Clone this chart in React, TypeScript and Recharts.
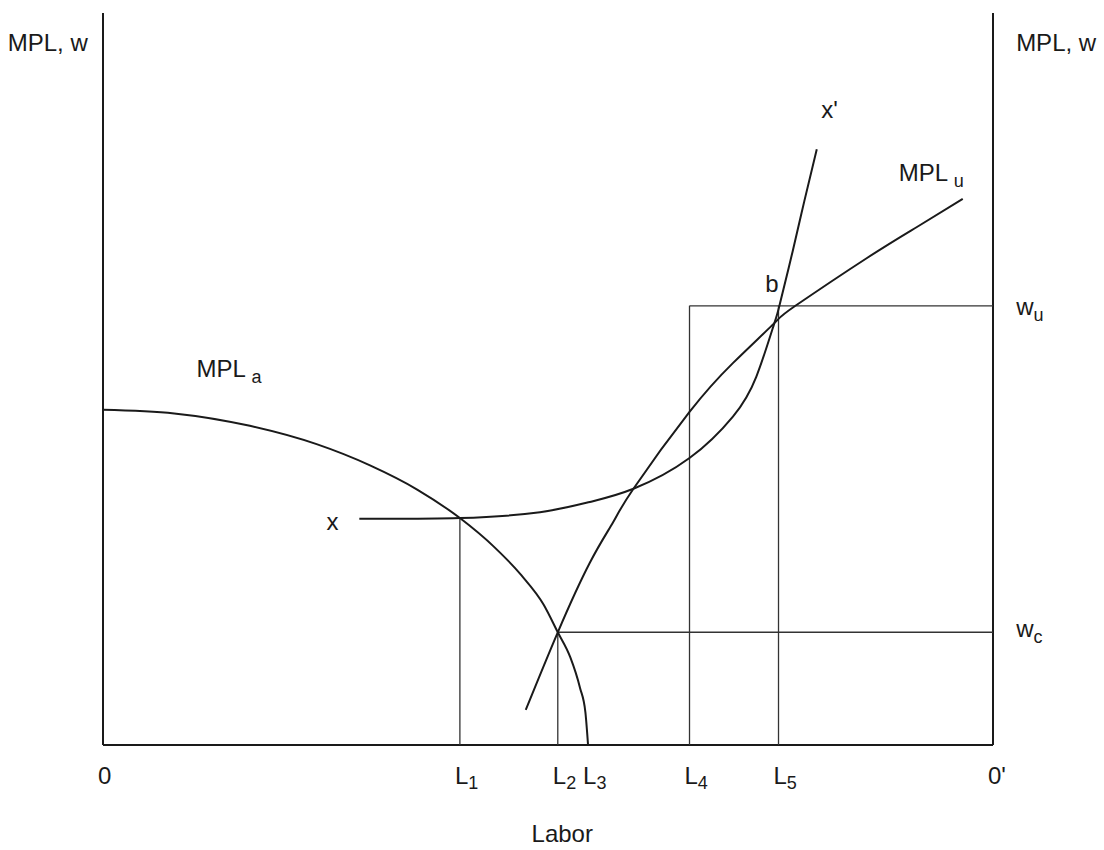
import { LineChart, Line, XAxis, YAxis, ReferenceLine, ReferenceDot } from 'recharts'

// labour runs 0..100 from 0 to 0', MPL / wage runs 0..100 up the side axes
const mplA = [
	{ x: 0, y: 45.8 }, { x: 8, y: 45.3 }, { x: 16.5, y: 43.6 }, { x: 24, y: 41.1 },
	{ x: 30, y: 38.2 }, { x: 35.3, y: 34.9 }, { x: 40.1, y: 31.0 }, { x: 44, y: 27.0 },
	{ x: 47, y: 23.2 }, { x: 49.5, y: 19.2 }, { x: 51.1, y: 15.4 }, { x: 52.5, y: 12.0 },
	{ x: 53.6, y: 7.8 }, { x: 54.2, y: 4.5 }, { x: 54.5, y: 0 },
]
const curveX = [
	{ x: 28.8, y: 30.9 }, { x: 40.1, y: 31.0 }, { x: 49.1, y: 31.8 }, { x: 54.7, y: 33.2 },
	{ x: 59.6, y: 35.0 }, { x: 65.9, y: 39.2 }, { x: 70.8, y: 44.9 }, { x: 73.4, y: 50.3 },
	{ x: 75.4, y: 57.5 }, { x: 76.0, y: 60.0 }, { x: 77.5, y: 67.5 }, { x: 78.8, y: 74.3 },
	{ x: 80.2, y: 81.4 },
]
const mplU = [
	{ x: 47.5, y: 4.8 }, { x: 51.1, y: 15.4 }, { x: 54.7, y: 24.9 }, { x: 57.3, y: 30.4 },
	{ x: 59.6, y: 35.0 }, { x: 65.9, y: 45.5 }, { x: 70.8, y: 52.2 }, { x: 75.4, y: 57.6 },
	{ x: 77.8, y: 60.0 }, { x: 85.8, y: 66.5 }, { x: 91.5, y: 70.8 }, { x: 96.6, y: 74.6 },
]

const wu = 60.0
const wc = 15.4
const laborTicks = [0, 40.1, 51.1, 54.5, 65.9, 75.9, 100]
const laborTickText = [['0', ''], ['L', '1'], ['L', '2'], ['L', '3'], ['L', '4'], ['L', '5'], ["0'", '']]

// guide lines: verticals up from the labour axis, horizontals out to the right axis
const guides = [
	[{ x: 40.1, y: 0 }, { x: 40.1, y: 31.0 }],
	[{ x: 51.1, y: 0 }, { x: 51.1, y: wc }],
	[{ x: 51.1, y: wc }, { x: 100, y: wc }],
	[{ x: 65.9, y: 0 }, { x: 65.9, y: wu }],
	[{ x: 65.9, y: wu }, { x: 100, y: wu }],
	[{ x: 75.9, y: 0 }, { x: 75.9, y: wu }],
]

const notes = [
	{ x: -10.7, y: 94.8, text: 'MPL, w', sub: '' },
	{ x: 102.6, y: 94.8, text: 'MPL, w', sub: '' },
	{ x: 10.5, y: 50.3, text: 'MPL ', sub: 'a' },
	{ x: 89.4, y: 77.0, text: 'MPL ', sub: 'u' },
	{ x: 25.1, y: 29.4, text: 'x', sub: '' },
	{ x: 80.7, y: 85.7, text: "x'", sub: '' },
	{ x: 74.4, y: 61.9, text: 'b', sub: '' },
	{ x: 102.6, y: 58.7, text: 'w', sub: 'u' },
	{ x: 102.6, y: 14.7, text: 'w', sub: 'c' },
	{ x: 51.6, y: -13.2, text: 'Labor', sub: '', middle: true },
]

const font = '"Liberation Sans", Arial, sans-serif'
const ink = '#1a1a1a'

const LaborTick = (props: any) => {
	const { x, y, payload } = props
	const i = laborTicks.indexOf(payload.value)
	const [main, sub] = laborTickText[i] || ['', '']
	return (
		<text x={x - 5} y={y + 31} fontFamily={font} fontSize={24} fill={ink}>
			<tspan>{main}</tspan>
			{sub && <tspan dy={5} fontSize={18}>{sub}</tspan>}
		</text>
	)
}

const noteContent = (text: string, sub: string, middle?: boolean) => (props: any) => {
	const { viewBox } = props
	return (
		<text
			x={viewBox.x}
			y={viewBox.y}
			fontFamily={font}
			fontSize={24}
			fill={ink}
			textAnchor={middle ? 'middle' : 'start'}
		>
			<tspan>{text}</tspan>
			{sub && <tspan dy={6} fontSize={18}>{sub}</tspan>}
		</text>
	)
}

const App = () => {
	return (
		<div style={{ position: 'absolute', left: 0, top: 0, background: '#fff' }}>
			<LineChart width={1104} height={850} margin={{ top: 13, right: 111, bottom: 65, left: 103 }}>
				<XAxis
					dataKey='x'
					type='number'
					domain={[0, 100]}
					ticks={laborTicks}
					interval={0}
					axisLine={false}
					tickLine={false}
					height={40}
					tick={<LaborTick />}
				/>
				<YAxis type='number' domain={[0, 100]} hide />

				<ReferenceLine x={0} stroke={ink} strokeWidth={2} />
				<ReferenceLine x={100} stroke={ink} strokeWidth={2} />
				<ReferenceLine y={0} stroke={ink} strokeWidth={2} />
				{guides.map((seg, i) => (
					<ReferenceLine key={`g-${i}`} segment={seg} stroke='#333' strokeWidth={1.3} />
				))}

				<Line data={mplA} dataKey='y' type='monotone' stroke={ink} strokeWidth={2} dot={false} isAnimationActive={false} />
				<Line data={curveX} dataKey='y' type='natural' stroke={ink} strokeWidth={2} dot={false} isAnimationActive={false} />
				<Line data={mplU} dataKey='y' type='natural' stroke={ink} strokeWidth={2} dot={false} isAnimationActive={false} />

				{notes.map((n, i) => (
					<ReferenceDot
						key={`n-${i}`}
						x={n.x}
						y={n.y}
						r={0}
						fill='none'
						stroke='none'
						ifOverflow='visible'
						label={{ content: noteContent(n.text, n.sub, n.middle) }}
					/>
				))}
			</LineChart>
		</div>
	)
}

export default App
